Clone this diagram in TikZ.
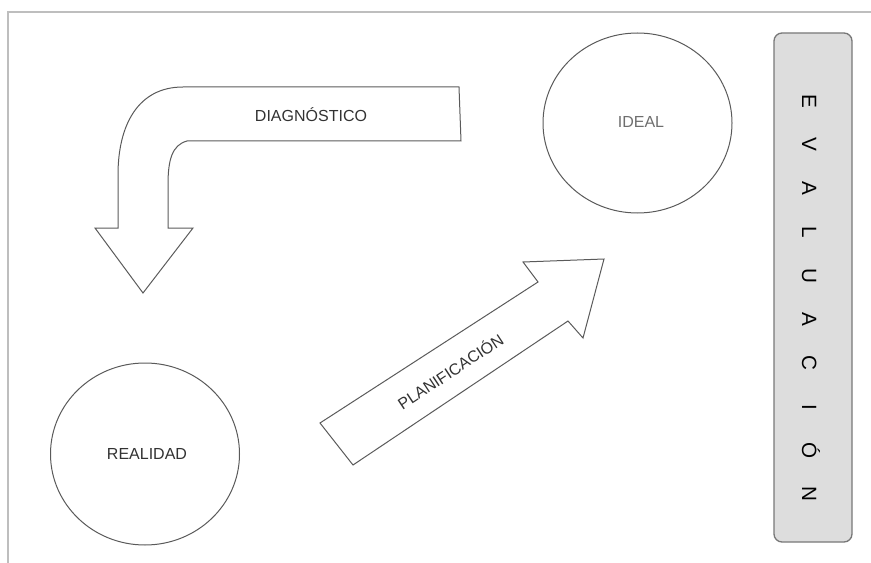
\documentclass[tikz,border=0pt]{standalone}
\usepackage{fontspec}
\setmainfont{Liberation Sans}
\usetikzlibrary{shapes.geometric}

\tikzset{
  outline/.style={draw={rgb, 255:red, 90; green, 90; blue, 90}, line width=0.75},
  lbl/.style={text={rgb, 255:red, 50; green, 50; blue, 50}, font=\fontsize{12}{14}\selectfont, inner sep=0},
  letter/.style={rotate=-90, font=\fontsize{15.5}{17}\selectfont, inner sep=0, text height=1.7ex, text depth=0pt}
}

\begin{document}
\begin{tikzpicture}[x=0.75pt,y=0.75pt,yscale=-1,xscale=1]
\useasboundingbox (0,0) rectangle (871,563);

%Straight Lines [frame]
\draw [color={rgb, 255:red, 190; green, 190; blue, 190 }, line width=1.2] (8,563) -- (8,12) -- (871,12) ;

%Shape: Ellipse [ideal]
\node [outline, ellipse, minimum width=189*0.75pt, minimum height=180*0.75pt, inner sep=0] (ideal) at (637.5,123) {};
\node [lbl, text={rgb, 255:red, 110; green, 110; blue, 110 }] (idealtxt) at (641,122) {IDEAL};

%Shape: Ellipse [realidad]
\node [outline, ellipse, minimum width=189*0.75pt, minimum height=182*0.75pt, inner sep=0] (real) at (145,454) {};
\node [lbl] (realtxt) at (147,454) {REALIDAD};

%Shape: Bent Arrow [diagnostico]
\draw [outline, line join=miter]  (459,87) -- (183,87) .. controls (138,87) and (118,125) .. (118,175) -- (118,228) -- (95,228) -- (143,293) -- (193,228) -- (168,228) -- (168,185) .. controls (168,160) and (172,145) .. (187,141) -- (461,141) -- cycle ;
\node [lbl] (diagtxt) at (311,115) {DIAGNÓSTICO};

%Shape: Right Arrow [planificacion]
\draw [outline, line join=miter]  (320,423) -- (538,282) -- (523,262) -- (604,259) -- (583,338) -- (568,321) -- (353,465) -- cycle ;
\node [lbl, rotate=33.5] (plantxt) at (450,371) {PLANIFICACIÓN};

%Rounded Rect [evaluacion]
\draw [draw={rgb, 255:red, 120; green, 120; blue, 120 }, fill={rgb, 255:red, 221; green, 221; blue, 221 }, line width=1, rounded corners=6] (774,33) rectangle (852,542) ;
\foreach \l [count=\i from 0] in {E,V,A,L,U,A,C,I,Ó,N}
  \node [letter] (ev\i) at (808,101+43.7*\i) {\l};

\end{tikzpicture}
\end{document}
